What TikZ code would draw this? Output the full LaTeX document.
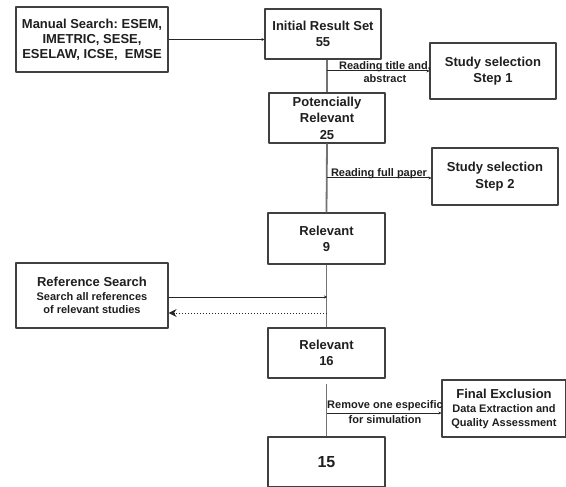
\documentclass[tikz,border=0pt]{standalone}
\usepackage{fontspec}
\setmainfont{Liberation Sans}
\frenchspacing
\usetikzlibrary{arrows.meta}
\begin{document}
\begin{tikzpicture}[x=1pt,y=-1pt,line join=round,>={Stealth[length=3pt,width=3pt]},
	box/.style={draw=black!75,line width=1.1pt,fill=white,align=center,inner sep=1pt,text=black!88,
		font=\bfseries\fontsize{13}{16}\selectfont},
	spine/.style={draw=black!55,line width=1.8pt},
	link/.style={draw=black!85,line width=1pt},
	lbl/.style={align=center,inner sep=0pt,text=black!88,font=\bfseries\fontsize{11}{13}\selectfont}]
				\useasboundingbox[fill=white] (0,0) rectangle (566,487);
				\node[box,minimum width=152,minimum height=65,font=\bfseries\fontsize{13}{15}\selectfont] (manual) at (92,39.5) {Manual Search: ESEM,\\IMETRIC, SESE,\\ESELAW, ICSE,\ \ EMSE};
				\node[box,minimum width=116,minimum height=50] (initial) at (323,34) {Initial Result Set\\55};
				\node[box,minimum width=126,minimum height=56,font=\bfseries\fontsize{13}{16.5}\selectfont] (step1) at (493,71) {Study selection\\Step 1};
				\node[box,minimum width=116,minimum height=50,font=\bfseries\fontsize{13}{16.5}\selectfont] (potrel) at (327,118) {Potencially\\Relevant\\25};
				\node[box,minimum width=126,minimum height=57,font=\bfseries\fontsize{13}{16.5}\selectfont] (step2) at (495,176.5) {Study selection\\Step 2};
				\node[box,minimum width=117,minimum height=51] (rel9) at (326.5,238.5) {Relevant\\9};
				\node[box,minimum width=152,minimum height=65,font=\bfseries\fontsize{11}{13.5}\selectfont] (refsearch) at (92,295.5) {{\fontsize{13}{13.5}\selectfont Reference Search}\\Search all references\\of relevant studies};
				\node[box,minimum width=117,minimum height=50] (rel16) at (326.5,353) {Relevant\\16};
				\node[box,minimum width=124,minimum height=57,font=\bfseries\fontsize{11}{14}\selectfont] (final) at (504,408.5) {{\fontsize{13}{14}\selectfont Final Exclusion}\\Data Extraction and\\Quality Assessment};
				\node[box,minimum width=117,minimum height=50,font=\bfseries\fontsize{16}{19}\selectfont] (fifteen) at (326.5,462) {15};
				
				\coordinate (b1) at (327,71);
				\coordinate (b2) at (327,178);
				\coordinate (r1) at (327,297);
				\coordinate (r2) at (327,313);
				\coordinate (b3) at (327,413);
				\draw[spine] (potrel.north |- initial.south) -- (potrel.north);
				\draw[spine] (potrel.south) -- (rel9.north);
				\draw[spine] (rel9.south) -- (rel16.north);
				\draw[spine] ([yshift=-5pt]rel16.south) -- (fifteen.north);
				
				\draw[link,->] (manual.east) -- (manual.east -| initial.west);
				\draw[link,->] (b1) -- (b1 -| step1.west);
				\draw[link,->] (b2) -- (b2 -| step2.west);
				\draw[link,->] (r1 -| refsearch.east) -- (r1);
				\draw[link,dotted,-{Stealth[length=8pt,width=8pt]}] (r2) -- (r2 -| refsearch.east);
				\draw[link,->] (b3) -- (b3 -| final.west);
				
				\node[lbl] (lab1) at (385,72.5) {Reading title and,\\abstract};
				\node[lbl,anchor=base] (lab2) at (379,176.5) {Reading full paper};
				\node[lbl,font=\bfseries\fontsize{11}{15}\selectfont] (lab3) at (385,412.5) {Remove one especific\\for simulation};
			\end{tikzpicture}
\end{document}
